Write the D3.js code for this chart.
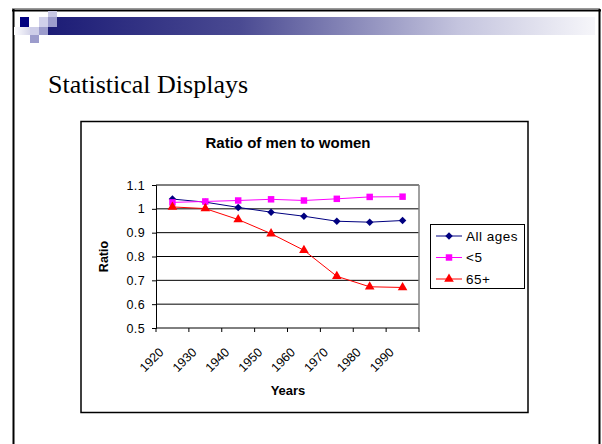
<!DOCTYPE html>
<html>
<head>
<meta charset="utf-8">
<title>Ratio of men to women</title>
<script src="https://d3js.org/d3.v7.min.js"></script>
<style>
  body { margin: 0; background: #fff; }
  svg { display: block; }
  text { font-family: Arial, "Liberation Sans", sans-serif; }
  .slide-title { font-family: "Times New Roman", "Liberation Serif", serif; font-size: 26px; }
  .tick text { font-size: 12.5px; fill: #000; letter-spacing: 0.4px; }
</style>
</head>
<body>
<svg id="slide" width="602" height="444"></svg>
<script>
// chart values
var years = [1920, 1930, 1940, 1950, 1960, 1970, 1980, 1990];
var allAges = [1.041, 1.028, 1.006, 0.986, 0.969, 0.948, 0.944, 0.951];
var under5 = [1.027, 1.031, 1.035, 1.040, 1.035, 1.042, 1.050, 1.051];
var over65 = [1.008, 1.001, 0.955, 0.896, 0.826, 0.717, 0.673, 0.670];
var yTicks = [0.5, 0.6, 0.7, 0.8, 0.9, 1.0, 1.1];
var seriesNames = ["All ages", "<5", "65+"];

var svg = d3.select("#slide");

// --- slide frame + header decoration
var defs = svg.append("defs");
var grad = defs.append("linearGradient").attr("id", "bar");
grad.append("stop").attr("offset", "0%").attr("stop-color", "#1c1c76");
grad.append("stop").attr("offset", "35%").attr("stop-color", "#4a4a92");
grad.append("stop").attr("offset", "75%").attr("stop-color", "#c4c4de");
grad.append("stop").attr("offset", "100%").attr("stop-color", "#f6f6fa");
var grad2 = defs.append("linearGradient").attr("id", "fade");
grad2.append("stop").attr("offset", "0%").attr("stop-color", "#ffffff");
grad2.append("stop").attr("offset", "100%").attr("stop-color", "#d6d6ea");

svg.append("line").attr("x1", 12).attr("x2", 600).attr("y1", 8.5).attr("y2", 8.5)
  .attr("stroke", "#999").attr("stroke-width", 1);
svg.append("line").attr("x1", 12).attr("x2", 601).attr("y1", 10.5).attr("y2", 10.5)
  .attr("stroke", "#000").attr("stroke-width", 2);
svg.append("line").attr("x1", 13.5).attr("x2", 13.5).attr("y1", 9).attr("y2", 444)
  .attr("stroke", "#000").attr("stroke-width", 2);
svg.append("line").attr("x1", 599.5).attr("x2", 599.5).attr("y1", 9).attr("y2", 444)
  .attr("stroke", "#000").attr("stroke-width", 2);

svg.append("rect").attr("x", 48).attr("y", 17).attr("width", 547).attr("height", 18)
  .attr("fill", "url(#bar)");
var squares = [
  [20, 17, 9, 10, "#000080"],
  [29, 17, 10, 10, "#ffffff"],
  [39, 17, 9, 10, "#d0d0ea"],
  [48, 11, 9, 6, "#c8c8e4"],
  [48, 17, 9, 10, "#9c9ccc"],
  [14, 27, 16, 8, "url(#fade)"],
  [30, 27, 9, 8, "#cdcde8"],
  [39, 27, 9, 8, "#9c9ccc"],
  [30, 35, 9, 8, "#9c9ccc"]
];
svg.selectAll("rect.sq").data(squares).enter().append("rect")
  .attr("class", "sq")
  .attr("x", function(d) { return d[0]; })
  .attr("y", function(d) { return d[1]; })
  .attr("width", function(d) { return d[2]; })
  .attr("height", function(d) { return d[3]; })
  .attr("fill", function(d) { return d[4]; });

svg.append("text").attr("class", "slide-title").attr("x", 48).attr("y", 93)
  .text("Statistical Displays");

// --- chart box
svg.append("rect").attr("x", 81).attr("y", 121.5).attr("width", 447).attr("height", 291)
  .attr("fill", "#fff").attr("stroke", "#000").attr("stroke-width", 1.5);

svg.append("text").attr("x", 288).attr("y", 148).attr("text-anchor", "middle")
  .attr("font-size", 15).attr("font-weight", "bold").text("Ratio of men to women");

var x = d3.scaleBand().domain(years).range([156, 419]);
var y = d3.scaleLinear().domain([0.5, 1.1]).range([328, 185]);
var cx = function(d, i) { return x(years[i]) + x.bandwidth() / 2; };

var plot = svg.append("g");

// gridlines
plot.selectAll("line.grid").data(yTicks.slice(1)).enter().append("line")
  .attr("x1", 156).attr("x2", 419)
  .attr("y1", function(d) { return y(d); })
  .attr("y2", function(d) { return y(d); })
  .attr("stroke", "#000").attr("stroke-width", 1);
// plot area right border
plot.append("line").attr("x1", 419).attr("x2", 419).attr("y1", y(1.1)).attr("y2", y(0.5))
  .attr("stroke", "#808080").attr("stroke-width", 1.5);

// y axis
var yAxis = svg.append("g").attr("transform", "translate(156,0)")
  .call(d3.axisLeft(y).tickValues(yTicks).tickSize(4).tickPadding(7)
    .tickFormat(d3.format("")));
yAxis.select(".domain").attr("stroke", "#000");

svg.append("text")
  .attr("transform", "translate(108," + ((y(0.5) + y(1.1)) / 2) + ") rotate(-90)")
  .attr("text-anchor", "middle").attr("font-size", 12.5).attr("font-weight", "bold")
  .text("Ratio");

// x axis (ticks at category boundaries)
svg.append("line").attr("x1", 156).attr("x2", 419).attr("y1", y(0.5)).attr("y2", y(0.5))
  .attr("stroke", "#000");
var bounds = years.map(function(d) { return x(d); }).concat([x.range()[1]]);
svg.selectAll("line.xt").data(bounds).enter().append("line")
  .attr("x1", function(d) { return d; }).attr("x2", function(d) { return d; })
  .attr("y1", y(0.5)).attr("y2", y(0.5) + 4).attr("stroke", "#000");
svg.selectAll("text.xl").data(years).enter().append("text")
  .attr("text-anchor", "end").attr("font-size", 12.5)
  .attr("transform", function(d) {
    return "translate(" + (x(d) + x.bandwidth() / 2 - 8) + "," + (y(0.5) + 25) + ") rotate(-45)";
  })
  .text(function(d) { return d; });

svg.append("text").attr("x", 288).attr("y", 395).attr("text-anchor", "middle")
  .attr("font-size", 13).attr("font-weight", "bold").text("Years");

// series
var series = [
  { name: seriesNames[0], values: allAges, color: "#000080", symbol: d3.symbolSquare, size: 28, rot: 45 },
  { name: seriesNames[1], values: under5, color: "#ff00ff", symbol: d3.symbolSquare, size: 42, rot: 0 },
  { name: seriesNames[2], values: over65, color: "#ff0000", symbol: d3.symbolTriangle, size: 40, rot: 0 }
];
var line = d3.line().x(cx).y(function(d) { return y(d); });

series.forEach(function(s) {
  plot.append("path").attr("d", line(s.values)).attr("fill", "none")
    .attr("stroke", s.color).attr("stroke-width", 1);
  plot.selectAll(null).data(s.values).enter().append("path")
    .attr("d", d3.symbol().type(s.symbol).size(s.size))
    .attr("transform", function(d, i) {
      return "translate(" + cx(d, i) + "," + y(d) + ") rotate(" + s.rot + ")";
    })
    .attr("fill", s.color);
});

// legend
var lg = svg.append("g");
lg.append("rect").attr("x", 430.5).attr("y", 224.5).attr("width", 94).attr("height", 64)
  .attr("fill", "#fff").attr("stroke", "#000");
var ly = [236, 257.5, 279];
series.forEach(function(s, i) {
  lg.append("line").attr("x1", 436).attr("x2", 462).attr("y1", ly[i]).attr("y2", ly[i])
    .attr("stroke", s.color);
  lg.append("path").attr("d", d3.symbol().type(s.symbol).size(s.size))
    .attr("transform", "translate(449," + ly[i] + ") rotate(" + s.rot + ")")
    .attr("fill", s.color);
  lg.append("text").attr("x", 466).attr("y", ly[i] + 4.5).attr("font-size", 13.5)
    .attr("letter-spacing", 0.5).text(s.name);
});
</script>
</body>
</html>
